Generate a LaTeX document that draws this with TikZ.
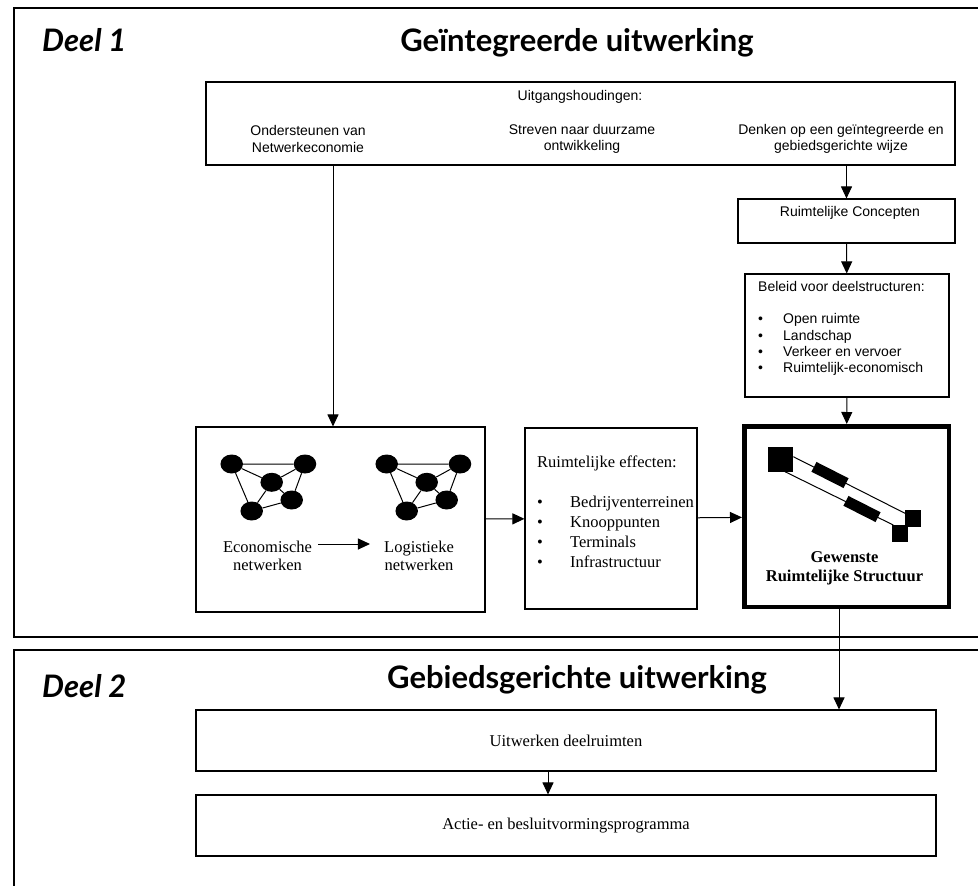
\documentclass[tikz,border=0pt]{standalone}
\usepackage{fontspec}
\setmainfont{Liberation Serif}
\newfontfamily\arialfont{Liberation Sans}
\newfontfamily\gillfont{Lato}
\usetikzlibrary{arrows.meta, shapes.geometric}

\begin{document}
\begin{tikzpicture}[x = 1pt, y = -1pt, > = {Triangle[length = 12pt, width = 11pt]},
	kader/.style = {draw, line width = 1.1pt, inner sep = 0pt},
	arial/.style = {font = \arialfont\fontsize{14}{16.3}\selectfont, inner sep = 0pt},
	times/.style = {font = \fontsize{16.5}{18}\selectfont, inner sep = 0pt},
	deel/.style = {font = \gillfont\bfseries\itshape\fontsize{31}{33}\selectfont, inner sep = 0pt, anchor = base west},
	titel/.style = {font = \gillfont\bfseries\fontsize{31}{33}\selectfont, inner sep = 0pt, anchor = base},
	knoop/.style = {ellipse, fill = black, minimum width = 22.5pt, minimum height = 19pt, inner sep = 0pt},
	lijn/.style = {line width = 1pt},
	pijl/.style = {->, line width = 1pt}]

	\useasboundingbox (0, 0) rectangle (978, 886);
	\fill [white] (0, 0) rectangle (978, 886);
	\clip (0, 0) rectangle (978, 886);

	% Frames
	
	\draw [line width = 1.3pt] (990, 637) -- (14, 637) -- (14, 8) -- (990, 8);
	\draw [line width = 1.3pt] (990, 650) -- (14, 650) -- (14, 900);
	
	\node [deel] (deel1) at (42, 51) {Deel 1};
	\node [titel] (titel1) at (577, 51) {Geïntegreerde uitwerking};
	\node [deel] (deel2) at (42, 697) {Deel 2};
	\node [titel] (titel2) at (577, 688) {Gebiedsgerichte uitwerking};
	
	% Uitgangshoudingen
	
	\node [kader, minimum width = 749pt, minimum height = 83pt] (uitgang) at (580.5, 123.5) {};
	\node [arial] (uitgangtekst) at (580, 97) {Uitgangshoudingen:};
	\node [arial, align = center] (ondersteunen) at (308, 139) {Ondersteunen van\\Netwerkeconomie};
	\node [arial, align = center] (streven) at (582, 139) {Streven naar duurzame\\ontwikkeling};
	\node [arial, align = center] (denken) at (841, 139) {Denken op een geïntegreerde en\\gebiedsgerichte wijze};
	
	% Right column
	
	\node [kader, minimum width = 217pt, minimum height = 44pt] (concepten) at (846.5, 221) {};
	\node [arial] (conceptentekst) at (850, 213) {Ruimtelijke Concepten};
	
	\node [kader, minimum width = 204pt, minimum height = 123pt] (beleid) at (847, 335.5) {};
	\node [arial, align = left, anchor = north west] (beleidtekst) at (758, 281.5)
		{Beleid voor deelstructuren:\\[15.7pt]
		\makebox[25pt][l]{\textbullet}Open ruimte\\
		\makebox[25pt][l]{\textbullet}Landschap\\
		\makebox[25pt][l]{\textbullet}Verkeer en vervoer\\
		\makebox[25pt][l]{\textbullet}Ruimtelijk-economisch};
	
	\draw [pijl] (uitgang.south -| concepten) -- (concepten);
	\draw [pijl] (concepten) -- (beleid);
	
	% Gewenste structuur
	
	\node [draw, line width = 4.5pt, minimum width = 204.5pt, minimum height = 180.5pt] (structuur) at (846.5, 516.5) {};
	\node [times, font = \bfseries\fontsize{16.5}{19.3}\selectfont, align = center] (structuurtekst) at (844.5, 568.5) {Gewenste\\Ruimtelijke Structuur};
	
	\fill (768.3, 447.3) rectangle (793.3, 472.3);
	\draw [lijn] (793.3, 456.7) -- (905, 513.3);
	\draw [lijn] (785, 471.7) -- (893.3, 525);
	\fill [rotate around = {-26.9:(830, 475)}] (812, 469.5) rectangle (848, 480.5);
	\fill [rotate around = {-26.9:(862, 509)}] (844, 503.5) rectangle (880, 514.5);
	\fill (905, 510) rectangle (921, 527);
	\fill (892, 525) rectangle (908, 542);
	
	\draw [pijl] (beleid) -- (structuur);
	
	% Netwerken
	
	\node [kader, minimum width = 289pt, minimum height = 185pt] (netwerk) at (340.5, 519.5) {};
	
	\node [knoop] (ea) at (231.7, 464) {};
	\node [knoop] (eb) at (305, 464) {};
	\node [knoop] (ec) at (271.7, 482.3) {};
	\node [knoop] (ed) at (291.7, 500) {};
	\node [knoop] (ee) at (251.7, 511) {};
	\draw [lijn] (ea) -- (eb) (ea) -- (ec) (ea) -- (ee) (eb) -- (ec) (eb) -- (ed) (ec) -- (ed) (ec) -- (ee) (ed) -- (ee);
	
	\node [knoop] (la) at (386.7, 464) {};
	\node [knoop] (lb) at (460, 464) {};
	\node [knoop] (lc) at (426.7, 482.3) {};
	\node [knoop] (ld) at (446.7, 500) {};
	\node [knoop] (le) at (406.7, 511) {};
	\draw [lijn] (la) -- (lb) (la) -- (lc) (la) -- (le) (lb) -- (lc) (lb) -- (ld) (lc) -- (ld) (lc) -- (le) (ld) -- (le);
	
	\node [times, align = center] (economisch) at (267.5, 556) {Economische\\netwerken};
	\node [times, align = center] (logistiek) at (419, 556) {Logistieke\\netwerken};
	\draw [pijl, shorten < = 6pt, shorten > = 14pt] ([yshift = 12pt] economisch.east) -- ([yshift = 12pt] logistiek.west);
	
	\coordinate (bron) at (333, 0);
	\draw [pijl] (uitgang.south -| bron) -- (netwerk.north -| bron);
	
	% Ruimtelijke effecten
	
	\node [kader, minimum width = 172pt, minimum height = 181pt] (effecten) at (611, 518.5) {};
	\node [times, font = \fontsize{16.5}{20}\selectfont, align = left, anchor = north west] (effectentekst) at (537, 455.5)
		{Ruimtelijke effecten:\\[20pt]
		\makebox[33pt][l]{\textbullet}Bedrijventerreinen\\
		\makebox[33pt][l]{\textbullet}Knooppunten\\
		\makebox[33pt][l]{\textbullet}Terminals\\
		\makebox[33pt][l]{\textbullet}Infrastructuur};
	
	\draw [pijl] (netwerk) -- (effecten);
	\draw [pijl] (effecten) -- (structuur);
	
	% Deel 2
	
	\node [kader, times, minimum width = 740pt, minimum height = 61pt] (uitwerken) at (566, 740.5) {Uitwerken deelruimten};
	\node [kader, times, minimum width = 740pt, minimum height = 61pt] (actie) at (566, 825.5) {Actie- en besluitvormingsprogramma};
	
	\coordinate (afvoer) at (839, 0);
	\draw [pijl] (structuur.south -| afvoer) -- (uitwerken.north -| afvoer);
	\coordinate (doorvoer) at (548, 0);
	\draw [pijl] (uitwerken.south -| doorvoer) -- (actie.north -| doorvoer);
	
\end{tikzpicture}
\end{document}
